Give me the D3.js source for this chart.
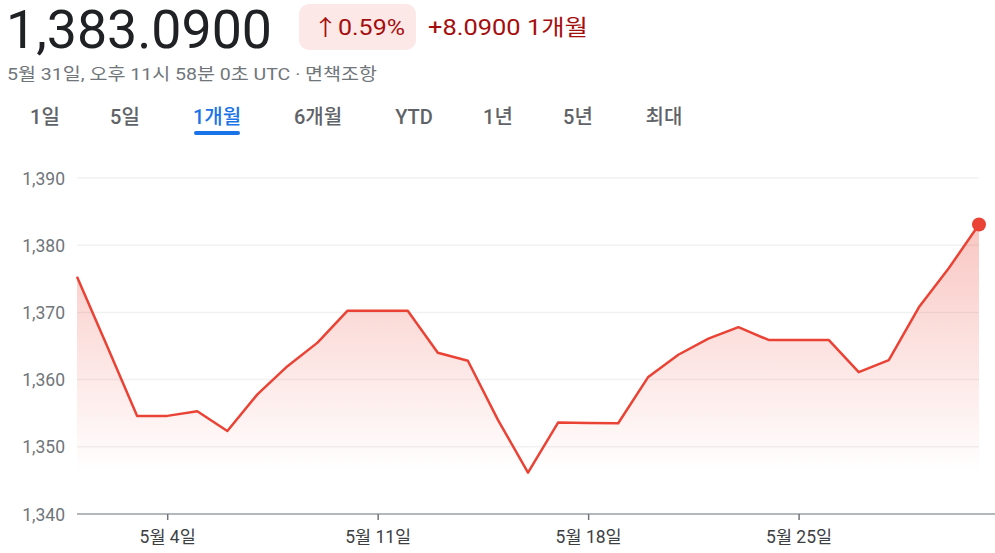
<!DOCTYPE html>
<html><head><meta charset="utf-8">
<script src="https://cdn.jsdelivr.net/npm/d3@7"></script>
<style>
html,body{margin:0;padding:0;background:#fff;overflow:hidden;}
svg{display:block;font-family:Roboto,"Noto Sans CJK KR",sans-serif;}
</style></head>
<body>
<svg id="c" width="995" height="553"></svg>
<script>
const days = [1,2,3,4,5,6,7,8,9,10,11,12,13,14,15,16,17,18,19,20,21,22,23,24,25,26,27,28,29,30,31];
const values = [1375.3,1365.0,1354.6,1354.6,1355.3,1352.35,1357.8,1362.0,1365.5,1370.25,1370.25,1370.25,1364.0,1362.8,1354.0,1346.15,1353.6,1353.55,1353.5,1360.4,1363.7,1366.1,1367.8,1365.9,1365.9,1365.9,1361.1,1362.9,1370.75,1376.6,1383.09];
const yTicks = [1340,1350,1360,1370,1380,1390];
const xTickDays = [4,11,18,25];
const tabs = ["1일","5일","1개월","6개월","YTD","1년","5년","최대"];
const tabX = [45,125,217,318,414,498,578,664];
const activeTab = "1개월";

const svg = d3.select("#c");
const x = d3.scaleTime().domain([new Date(2024,4,1), new Date(2024,4,31)]).range([77,979]);
const y = d3.scaleLinear().domain([1340,1390]).range([514,178]);
const data = days.map((d,i)=>({date:new Date(2024,4,d), v:values[i]}));

// header
svg.append("text").attr("x",6).attr("y",48).attr("font-size",53).attr("fill","#202124")
  .attr("textLength",266).attr("lengthAdjust","spacingAndGlyphs").text("1,383.0900");
svg.append("rect").attr("x",299).attr("y",4).attr("width",117).attr("height",46).attr("rx",10).attr("fill","#fce8e6");
svg.append("text").attr("x",313).attr("y",35).attr("font-size",22).attr("fill","#a50e0e")
  .attr("textLength",92).attr("lengthAdjust","spacingAndGlyphs").text("↑0.59%");
svg.append("text").attr("x",428).attr("y",35).attr("font-size",22).attr("fill","#a50e0e")
  .attr("textLength",160).attr("lengthAdjust","spacingAndGlyphs").text("+8.0900 1개월");
svg.append("text").attr("x",7).attr("y",80).attr("font-size",17).attr("fill","#70757a")
  .attr("textLength",370).attr("lengthAdjust","spacingAndGlyphs").text("5월 31일, 오후 11시 58분 0초 UTC · 면책조항");

tabs.forEach((t,i)=>{
  svg.append("text").attr("x",tabX[i]).attr("y",124).attr("text-anchor","middle")
    .attr("font-size",20).attr("font-weight",500).attr("fill", t===activeTab?"#1a73e8":"#5f6368").text(t);
});
svg.append("rect").attr("x",194).attr("y",131).attr("width",46).attr("height",4).attr("rx",2).attr("fill","#1a73e8");

// gridlines
svg.append("g").selectAll("line").data(yTicks.filter(t=>t>1340)).join("line")
  .attr("x1",77).attr("x2",979).attr("y1",d=>y(d)).attr("y2",d=>y(d))
  .attr("stroke","#f1f1f1").attr("stroke-width",1.5);

// y labels
const yAxis = d3.axisLeft(y).tickValues(yTicks).tickSize(0).tickPadding(0).tickFormat(d3.format(","));
const gy = svg.append("g").attr("transform","translate(65,0)").call(yAxis);
gy.select(".domain").remove();
gy.selectAll("text").attr("font-size",17.5).attr("fill","#70757a").attr("font-family","Roboto,sans-serif").attr("dy","0.35em");

// gradient
const defs = svg.append("defs");
const grad = defs.append("linearGradient").attr("id","g1").attr("gradientUnits","userSpaceOnUse")
  .attr("x1",0).attr("x2",0).attr("y1",y(d3.max(values))).attr("y2",y(d3.min(values)));
grad.append("stop").attr("offset",0).attr("stop-color","#ea4335").attr("stop-opacity",0.3);
grad.append("stop").attr("offset",1).attr("stop-color","#ea4335").attr("stop-opacity",0.0);

const area = d3.area().x(d=>x(d.date)).y0(y(1340)).y1(d=>y(d.v));
svg.append("path").datum(data).attr("d",area).attr("fill","url(#g1)");

// x axis
const xAxis = d3.axisBottom(x).tickValues(xTickDays.map(d=>new Date(2024,4,d))).tickSize(6).tickPadding(11)
  .tickFormat(d=>`5월 ${d.getDate()}일`);
const gx = svg.append("g").attr("transform",`translate(0,${y(1340)})`).call(xAxis);
gx.select(".domain").attr("d",`M77,0H995`).attr("stroke","#9aa0a6").attr("stroke-width",1.5);
gx.selectAll(".tick line").attr("stroke","#70757a").attr("stroke-width",1.5);
gx.selectAll("text").attr("font-size",17.5).attr("fill","#3c4043").attr("font-family","Roboto,'Noto Sans CJK KR',sans-serif");

// line
const line = d3.line().x(d=>x(d.date)).y(d=>y(d.v));
svg.append("path").datum(data).attr("d",line).attr("fill","none").attr("stroke","#ea4335")
  .attr("stroke-width",2.5).attr("stroke-linejoin","round");
const last = data[data.length-1];
svg.append("circle").attr("cx",x(last.date)).attr("cy",y(last.v)).attr("r",7).attr("fill","#ea4335");
</script>
</body></html>
